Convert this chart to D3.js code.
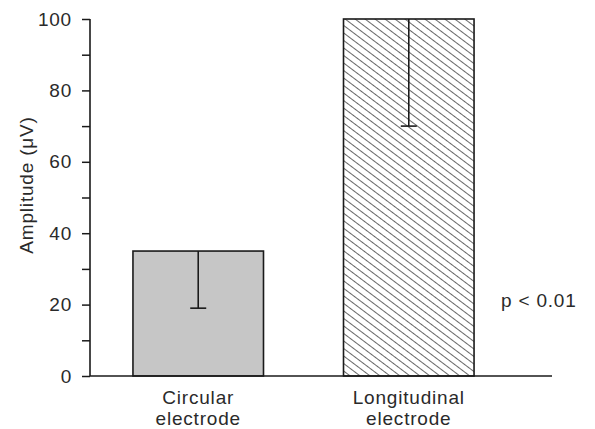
<!DOCTYPE html>
<html>
<head>
<meta charset="utf-8">
<script src="https://cdn.jsdelivr.net/npm/d3@7"></script>
<style>
  body { margin: 0; background: #fff; }
  svg text { font-family: "Liberation Sans", Arial, sans-serif; fill: #2a2a2a; letter-spacing: 0.8px; }
</style>
</head>
<body>
<div id="plot"></div>
<script>
// data
var categories = [['Circular', 'electrode'], ['Longitudinal', 'electrode']];
var keys = ['circular', 'longitudinal'];
var means = [35, 100];
var lower = [19, 70];   // bottom end of error bar
var yTicks = [0, 10, 20, 30, 40, 50, 60, 70, 80, 90, 100];
var pText = 'p < 0.01';

var width = 595, height = 429;

var svg = d3.select('#plot').append('svg')
    .attr('width', width)
    .attr('height', height);

// hatch for second bar
var defs = svg.append('defs');
defs.append('pattern')
    .attr('id', 'hatch')
    .attr('patternUnits', 'userSpaceOnUse')
    .attr('width', 6).attr('height', 6)
    .attr('patternTransform', 'rotate(-53)')
  .append('line')
    .attr('x1', 0).attr('y1', 0)
    .attr('x2', 0).attr('y2', 6)
    .attr('stroke', '#333')
    .attr('stroke-width', 1.5);

var fills = ['#c6c6c6', 'url(#hatch)'];

var y = d3.scaleLinear().domain([0, 100]).range([376, 19]);
var x = d3.scaleBand().domain(keys).range([90, 517])
    .paddingInner(0.38).paddingOuter(0.204);

// bars
svg.selectAll('.bar')
    .data(keys)
    .enter()
    .append('rect')
    .attr('class', 'bar')
    .attr('x', function(d) { return x(d); })
    .attr('y', function(d, i) { return y(means[i]); })
    .attr('width', x.bandwidth())
    .attr('height', function(d, i) { return y(0) - y(means[i]); })
    .attr('fill', function(d, i) { return fills[i]; })
    .attr('stroke', '#1a1a1a')
    .attr('stroke-width', 1.6);

// error bars (downward only)
var err = svg.selectAll('.err')
    .data(keys)
    .enter()
    .append('g')
    .attr('class', 'err')
    .attr('stroke', '#1a1a1a')
    .attr('stroke-width', 1.6);
err.append('line')
    .attr('x1', function(d) { return x(d) + x.bandwidth()/2; })
    .attr('x2', function(d) { return x(d) + x.bandwidth()/2; })
    .attr('y1', function(d, i) { return y(means[i]); })
    .attr('y2', function(d, i) { return y(lower[i]); });
err.append('line')
    .attr('x1', function(d) { return x(d) + x.bandwidth()/2 - 8; })
    .attr('x2', function(d) { return x(d) + x.bandwidth()/2 + 8; })
    .attr('y1', function(d, i) { return y(lower[i]); })
    .attr('y2', function(d, i) { return y(lower[i]); });

// y axis
var yAxis = svg.append('g')
    .attr('transform', 'translate(90,0)')
    .call(d3.axisLeft(y)
        .tickValues(yTicks)
        .tickSize(8)
        .tickPadding(10)
        .tickFormat(function(d) { return d % 20 == 0 ? d : ''; }));
yAxis.select('.domain').remove();
yAxis.selectAll('line').attr('stroke', '#1a1a1a').attr('stroke-width', 1.5);
yAxis.selectAll('text')
    .style('font-size', '19px')
    .attr('fill', '#2a2a2a');
svg.append('line')
    .attr('x1', 90).attr('x2', 90)
    .attr('y1', y(100)).attr('y2', y(0))
    .attr('stroke', '#1a1a1a').attr('stroke-width', 1.6);

// x axis line
svg.append('line')
    .attr('x1', 90).attr('x2', 552)
    .attr('y1', y(0)).attr('y2', y(0))
    .attr('stroke', '#1a1a1a').attr('stroke-width', 1.6);

// category labels
var lab = svg.selectAll('.cat')
    .data(keys)
    .enter()
    .append('text')
    .attr('class', 'cat')
    .attr('text-anchor', 'middle')
    .style('font-size', '19px');
lab.append('tspan')
    .attr('x', function(d) { return x(d) + x.bandwidth()/2; })
    .attr('y', 404)
    .text(function(d, i) { return categories[i][0]; });
lab.append('tspan')
    .attr('x', function(d) { return x(d) + x.bandwidth()/2; })
    .attr('y', 425)
    .text(function(d, i) { return categories[i][1]; });

// y label
svg.append('text')
    .attr('transform', 'rotate(-90)')
    .attr('x', -185)
    .attr('y', 33)
    .attr('text-anchor', 'middle')
    .style('font-size', '19px')
    .text('Amplitude (\u03bcV)');

// significance
svg.append('text')
    .attr('x', 501)
    .attr('y', 307)
    .style('font-size', '19px')
    .text(pText);
</script>
</body>
</html>
